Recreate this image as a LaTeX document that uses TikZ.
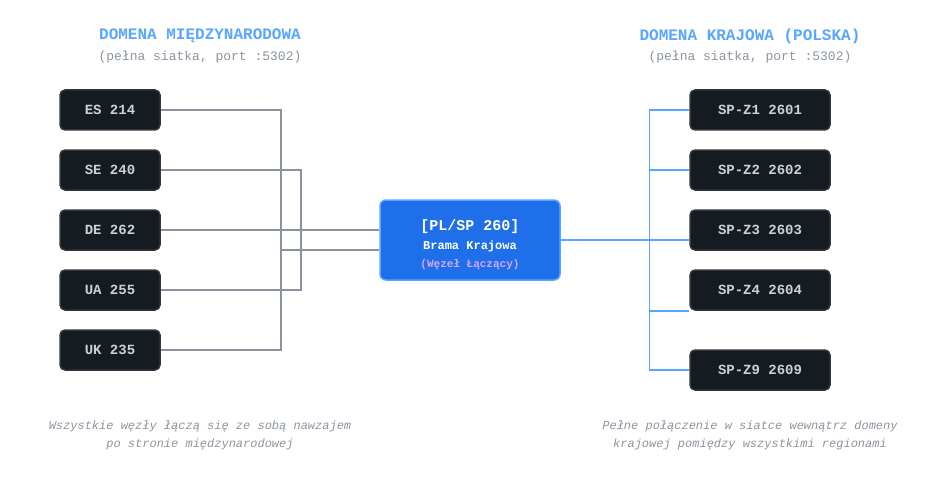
\documentclass[tikz,border=0pt]{standalone}
\usepackage{fontspec}
\setmonofont{Liberation Mono}
\usetikzlibrary{positioning}
\definecolor{niebieski}{HTML}{58A6FF}
\definecolor{brama}{HTML}{1F6FEB}
\definecolor{ciemny}{HTML}{161B22}
\definecolor{ramka}{HTML}{30363D}
\definecolor{szary}{HTML}{8B949E}
\definecolor{jasny}{HTML}{C9D1D9}
\definecolor{fiolet}{HTML}{D2A8FF}
\newcommand{\rozm}[2]{\fontsize{#1}{#2}\selectfont}

\begin{document}
\begin{tikzpicture}[x=1pt,y=-1pt,
  wezel/.style={draw=ramka,line width=1.5pt,rounded corners=5pt,fill=ciemny,text=jasny,
    minimum height=40pt,font=\ttfamily\bfseries\rozm{14}{16},inner sep=0pt},
  mw/.style={wezel,minimum width=100pt},
  kr/.style={wezel,minimum width=140pt},
  tytul/.style={text=niebieski,font=\ttfamily\bfseries\rozm{16}{18}},
  podtytul/.style={text=szary,font=\ttfamily\rozm{13}{15}},
  uwaga/.style={text=szary,align=center,font=\ttfamily\itshape\rozm{12}{18}},
  szara/.style={draw=szary,line width=1.5pt},
  blekit/.style={draw=niebieski,line width=1.5pt}]
\useasboundingbox (0,0) rectangle (950,500);

% naglowki
\node[tytul] (t1) at (200,36) {DOMENA MIĘDZYNARODOWA};
\node[podtytul] (p1) at (200,57) {(pełna siatka, port :5302)};
\node[tytul] (t2) at (750,36) {DOMENA KRAJOWA (POLSKA)};
\node[podtytul] (p2) at (750,57) {(pełna siatka, port :5302)};

% domena miedzynarodowa
\node[mw] (es) at (110,110) {ES 214};
\node[mw] (se) at (110,170) {SE 240};
\node[mw] (de) at (110,230) {DE 262};
\node[mw] (ua) at (110,290) {UA 255};
\node[mw] (uk) at (110,350) {UK 235};

% brama
\node[draw=niebieski,line width=1.5pt,rounded corners=6pt,fill=brama,
  minimum width=180pt,minimum height=80pt,align=center,text=white,
  font=\ttfamily\bfseries\rozm{12}{19}] (gw) at (470,240)
  {{\rozm{15}{19}\rule{0pt}{21pt}[PL/SP 260]}\\{\rozm{12}{19}Brama Krajowa}\\[-1pt]{\color{fiolet}\rozm{11}{16}(Węzeł Łączący)}};

% domena krajowa
\node[kr] (z1) at (760,110) {SP-Z1 2601};
\node[kr] (z2) at (760,170) {SP-Z2 2602};
\node[kr] (z3) at (760,230) {SP-Z3 2603};
\node[kr] (z4) at (760,290) {SP-Z4 2604};
\node[kr] (z9) at (760,370) {SP-Z9 2609};

% polaczenia
\draw[szara] (es.east) -- ++(120,0) |- (uk.east);
\draw[szara] (se.east) -- ++(140,0) |- (ua.east);
\draw[szara] (de.east) -- (de.east -| gw.west);
\coordinate (j) at (280,250);
\draw[szara] (j) -- (j -| gw.west);

\draw[blekit] (z1.west) -- ++(-40,0) |- (z9.west);
\draw[blekit] (z2.west) -- ++(-40,0);
\draw[blekit] (z4.south west) -- ++(-40,0);
\draw[blekit] (gw.east) -- (gw.east -| z3.west);

% opisy
\node[uwaga] (o1) at (200,435) {Wszystkie węzły łączą się ze sobą nawzajem\\po stronie międzynarodowej};
\node[uwaga] (o2) at (750,435) {Pełne połączenie w siatce wewnątrz domeny\\krajowej pomiędzy wszystkimi regionami};
\end{tikzpicture}
\end{document}
